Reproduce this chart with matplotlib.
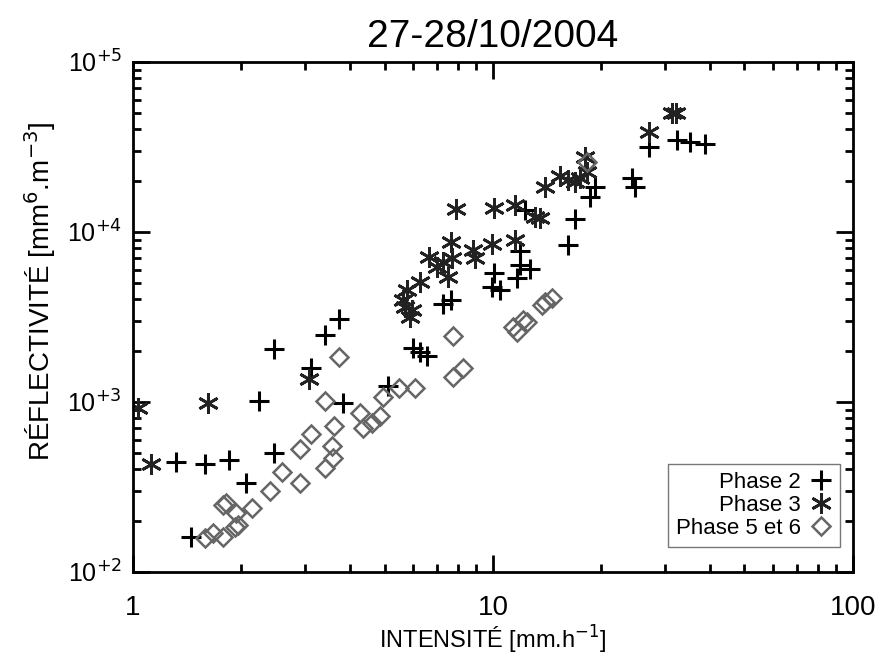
import matplotlib
matplotlib.use('Agg')
import matplotlib.pyplot as plt
from matplotlib.ticker import LogLocator, FixedLocator, NullFormatter

plt.rcParams['font.family'] = ['Liberation Sans', 'DejaVu Sans']

# Phase 2 (+)
p2_x = [1.32, 1.58, 1.85, 1.45, 2.06, 2.24, 2.46, 2.46, 3.12, 3.41, 3.73, 3.83,
        5.11, 5.99, 6.27, 6.56, 7.26, 7.65, 9.94, 10.1, 10.45, 11.66, 11.89, 11.89,
        12.67, 12.27, 16.16, 16.9, 18.6, 19.2, 24.3, 24.8, 27.1, 32.4, 35.3, 38.8]
p2_y = [444, 432, 456, 161, 334, 1014, 501, 2049, 1585, 2478, 3077, 987,
        1243, 2078, 1968, 1865, 3770, 3981, 4747, 5741, 4560, 5360, 7730, 6395,
        6058, 13470, 8390, 11920, 16070, 18400, 20790, 18400, 31620, 34800, 33840, 32930]

# Phase 3 (*)
p3_x = [1.03, 1.12, 1.62, 3.08, 5.62, 5.77, 5.88, 5.96, 5.70, 6.27, 6.64, 6.99,
        7.26, 7.50, 7.65, 7.69, 7.89, 8.80, 8.91, 9.94, 11.51, 10.1, 11.51, 13.08,
        13.51, 13.94, 15.36, 16.16, 16.9, 17.45, 18.24, 18.0, 27.1, 31.4, 32.2]
p3_y = [922, 432, 987, 1366, 3981, 4560, 3162, 3478, 3622, 5080, 7130, 6225,
        6660, 5435, 8730, 7035, 13650, 7840, 7035, 8500, 8980, 13840, 14420, 12250,
        12080, 18400, 21330, 20230, 19680, 20790, 22540, 27620, 38740, 50120, 50120]

# Phase 5 et 6 (losanges)
p56_x = [1.58, 1.67, 1.78, 1.78, 1.81, 1.93, 1.92, 1.96, 2.14, 2.40, 2.59, 2.91,
         3.12, 2.91, 3.41, 3.62, 3.57, 3.59, 3.41, 3.73, 4.27, 4.35, 4.61, 4.86,
         4.95, 5.48, 6.07, 7.74, 7.74, 8.25, 11.36, 11.66, 12.12, 12.43, 13.69,
         13.94, 14.58, 18.24]
p56_y = [158, 170, 161, 248, 255, 222, 184, 189, 238, 300, 387, 529,
         648, 334, 1014, 722, 551, 469, 409, 1840, 861, 703, 752, 828,
         1070, 1209, 1209, 2445, 1403, 1585, 2762, 2582, 3037, 2956, 3721,
         3875, 4093, 25800]

fig = plt.figure(figsize=(8.93, 6.58), dpi=100)
ax = fig.add_axes([0.149, 0.131, 0.806, 0.775])

ax.plot(p2_x, p2_y, ls='none', marker='+', ms=15, mew=2.2, color='black',
        label='Phase 2')
ax.plot(p3_x, p3_y, ls='none', marker=(6, 2, 0), ms=15, mew=2.0, color='#222222',
        label='Phase 3')
ax.plot(p56_x, p56_y, ls='none', marker='D', ms=9, mew=1.8, mfc='none',
        mec='#666666', label='Phase 5 et 6')

ax.set_xscale('log')
ax.set_yscale('log')
ax.set_xlim(1, 100)
ax.set_ylim(100, 1e5)

ax.xaxis.set_major_locator(FixedLocator([1, 10, 100]))
ax.set_xticklabels(['1', '10', '100'])
ax.xaxis.set_minor_locator(LogLocator(base=10, subs=range(2, 10)))
ax.xaxis.set_minor_formatter(NullFormatter())
ax.yaxis.set_major_locator(FixedLocator([1e2, 1e3, 1e4, 1e5]))
ax.set_yticklabels(['10$^{+2}$', '10$^{+3}$', '10$^{+4}$', '10$^{+5}$'])
ax.yaxis.set_minor_locator(LogLocator(base=10, subs=range(2, 10)))
ax.yaxis.set_minor_formatter(NullFormatter())

ax.tick_params(which='both', direction='in', top=True, right=True, width=2,
               labelsize=18)
ax.tick_params(axis='x', labelsize=20)
ax.tick_params(which='major', length=12)
ax.tick_params(which='minor', length=6)
ax.tick_params(axis='x', which='major', pad=17)
ax.tick_params(axis='y', which='major', pad=8)
for s in ax.spines.values():
    s.set_linewidth(2)

ax.set_xlabel('INTENSITÉ [mm.h$^{-1}$]', fontsize=17, labelpad=2)
ax.set_ylabel('RÉFLECTIVITÉ [mm$^6$.m$^{-3}$]', fontsize=20)
ax.yaxis.set_label_coords(-0.104, 0.55)
ax.set_title('27-28/10/2004', fontsize=28, pad=11)

leg = ax.legend(loc='lower right', markerfirst=False, fontsize=16,
                frameon=True, fancybox=False, handlelength=1.0,
                handletextpad=0.4, borderpad=0.35, labelspacing=0.1,
                borderaxespad=0, bbox_to_anchor=(0.982, 0.049))
leg.get_frame().set_edgecolor('#555555')
leg.get_frame().set_linewidth(1.0)
for t in leg.get_texts():
    t.set_ha('right')

plt.savefig('out.png', dpi=100, facecolor='white')
